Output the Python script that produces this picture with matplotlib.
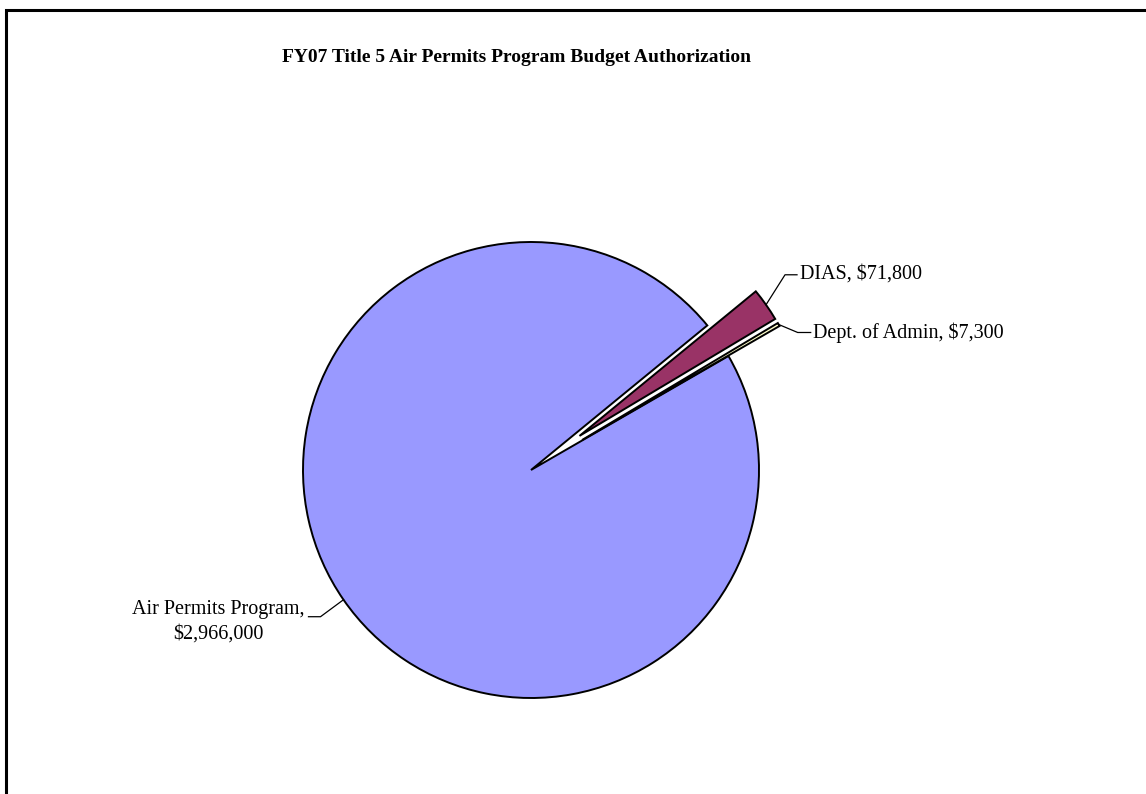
import numpy as np
import matplotlib.pyplot as plt
from matplotlib.patches import Rectangle

plt.rcParams['font.family'] = ['Liberation Serif', 'DejaVu Serif']

# budget pieces (dollars)
names = ['Air Permits Program', 'DIAS', 'Dept. of Admin']
amounts = [2966000, 71800, 7300]
colors = ['#9999FF', '#993366', '#FFFFCC']
pull = [0.0, 0.26, 0.26]  # explode as a fraction of the radius

W, H = 1146, 794
fig = plt.figure(figsize=(W / 100, H / 100), dpi=100)
ax = fig.add_axes([0, 0, 1, 1])
ax.axis('off')

cx, cy, R = 531, H - 470, 228
wedges, _ = ax.pie(amounts, colors=colors, explode=[p * R for p in pull],
                   startangle=30, counterclock=False, center=(cx, cy), radius=R,
                   wedgeprops=dict(edgecolor='black', linewidth=1.4))
ax.set_xlim(0, W)
ax.set_ylim(0, H)
ax.set_aspect('equal')

# chart frame (only top and left edges fall inside the image)
ax.add_patch(Rectangle((6, -20), W + 40, H - 10 + 20, fill=False,
                       edgecolor='black', linewidth=2.2, clip_on=False))

ax.text(cx - 14, H - 57, 'FY07 Title 5 Air Permits Program Budget Authorization',
        ha='center', va='center', fontsize=14, fontweight='bold')


def money(v):
    return '${:,}'.format(v)


def leader(w, e, bend, tail):
    mid = np.deg2rad((w.theta1 + w.theta2) / 2)
    r = R * (1 + e)
    x0, y0 = cx + r * np.cos(mid), cy + r * np.sin(mid)
    x1, y1 = x0 + bend[0], y0 + bend[1]
    x2 = x1 + tail
    ax.plot([x0, x1, x2], [y0, y1, y1], color='black', linewidth=0.9)
    return x2, y1


x, y = leader(wedges[1], pull[1], (19, 30), 12)
ax.text(x + 3, y + 1, names[1] + ', ' + money(amounts[1]),
        ha='left', va='center', fontsize=14.5)

x, y = leader(wedges[2], pull[2], (19, -8), 13)
ax.text(x + 2, y, names[2] + ', ' + money(amounts[2]),
        ha='left', va='center', fontsize=14.5)

x, y = leader(wedges[0], pull[0], (-23, -17), -12)
ax.text(x - 4, y - 5, names[0] + ',\n' + money(amounts[0]),
        ha='right', va='center', multialignment='center', fontsize=14.5,
        linespacing=1.4)

fig.savefig('out.png', dpi=100)
